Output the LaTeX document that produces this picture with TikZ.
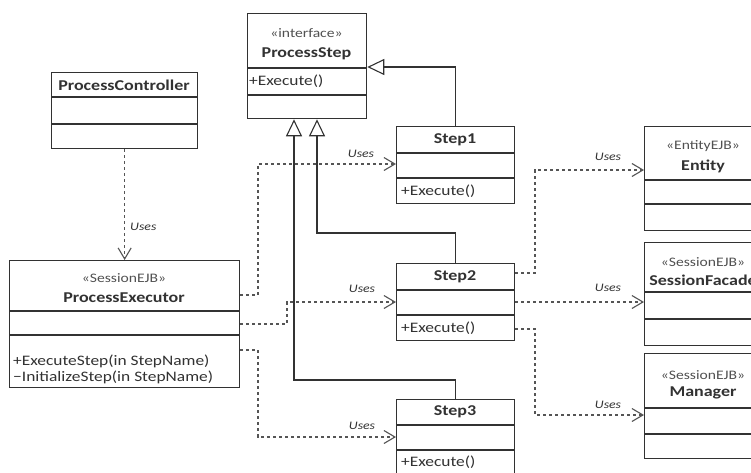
\documentclass[tikz,border=0pt]{standalone}
\usepackage{fontspec}
\setmainfont{Carlito}[FakeStretch=1.2]
\usetikzlibrary{arrows.meta,calc}

\definecolor{ink}{RGB}{50,50,50}
\definecolor{depink}{RGB}{85,85,85}

\tikzset{
  cls/.style={draw=ink, line width=1.3pt, fill=white, anchor=north west, inner sep=0pt},
  part/.style={draw=ink, line width=1.2pt},
  title/.style={font=\fontsize{15}{16}\selectfont\bfseries, text=ink, inner sep=0pt},
  stereo/.style={font=\fontsize{13}{14}\selectfont, text=ink!85, inner sep=0pt},
  meth/.style={font=\fontsize{14.5}{15}\selectfont, text=ink, inner sep=0pt, anchor=west},
  uses/.style={font=\fontsize{11.5}{12}\selectfont\itshape, text=ink, inner sep=0pt},
  dep/.style={draw=depink, line width=1.1pt, dash pattern=on 3pt off 3pt,
    -{Straight Barb[length=11pt,width=13pt,line width=1.1pt]}},
  gen/.style={draw=ink, line width=1.3pt,
    -{Triangle[open,length=17pt,width=16pt,fill=white,line width=1.1pt]}},
}

% draws the horizontal compartment separators of a class box
\newcommand{\compartments}[3]{%
  \draw[part] ($(#1.north west)+(0,#2)$) -- ($(#1.north east)+(0,#2)$);
  \draw[part] ($(#1.north west)+(0,#3)$) -- ($(#1.north east)+(0,#3)$);
}

\begin{document}
\begin{tikzpicture}[x=1pt,y=-1pt]
\useasboundingbox (0,0) rectangle (751,472);
\clip (0,0) rectangle (751,472);
\fill[white] (0,0) rectangle (751,472);

% ---- class boxes ----
\node[cls, minimum width=119pt, minimum height=105pt] (ps) at (247,13) {};
\compartments{ps}{55}{82}
\node[stereo] (ps-st) at (306.5,33) {«interface»};
\node[title] (ps-t) at (306.5,54) {ProcessStep};
\node[meth] (ps-m) at (249,81) {+Execute()};

\node[cls, minimum width=146pt, minimum height=76pt] (pc) at (51,72) {};
\compartments{pc}{25}{52}
\node[title] (pc-t) at (124,85) {ProcessController};

\node[cls, minimum width=230pt, minimum height=127pt] (pe) at (9,260) {};
\compartments{pe}{51}{75}
\node[stereo] (pe-st) at (124,278) {«SessionEJB»};
\node[title] (pe-t) at (124,298) {ProcessExecutor};
\node[meth] (pe-m1) at (13,361) {+ExecuteStep(in StepName)};
\node[meth] (pe-m2) at (13,377) {−InitializeStep(in StepName)};

\node[cls, minimum width=118pt, minimum height=77pt] (s1) at (396,126) {};
\compartments{s1}{27}{52}
\node[title] (s1-t) at (455,140) {Step1};
\node[meth] (s1-m) at (401,191) {+Execute()};

\node[cls, minimum width=118pt, minimum height=77pt] (s2) at (396,263) {};
\compartments{s2}{27}{52}
\node[title] (s2-t) at (455,277) {Step2};
\node[meth] (s2-m) at (401,328) {+Execute()};

\node[cls, minimum width=118pt, minimum height=80pt] (s3) at (396,399) {};
\compartments{s3}{26}{51}
\node[title] (s3-t) at (455,412) {Step3};
\node[meth] (s3-m) at (401,462) {+Execute()};

\node[cls, minimum width=118pt, minimum height=104pt] (en) at (644,126) {};
\compartments{en}{54}{78}
\node[stereo] (en-st) at (703,146) {«EntityEJB»};
\node[title] (en-t) at (703,166) {Entity};

\node[cls, minimum width=118pt, minimum height=103pt] (sf) at (644,242) {};
\compartments{sf}{50}{77}
\node[stereo] (sf-st) at (703,262) {«SessionEJB»};
\node[title] (sf-t) at (703,280) {SessionFacade};

\node[cls, minimum width=118pt, minimum height=105pt] (mg) at (644,353) {};
\compartments{mg}{55}{81}
\node[stereo] (mg-st) at (703,375) {«SessionEJB»};
\node[title] (mg-t) at (703,393) {Manager};

% ---- generalizations to ProcessStep ----
\coordinate (g1) at (455,67);
\coordinate (g2) at (317,233);
\coordinate (g3) at (294,380);
\draw[gen] (s1.north) -- (s1.north |- g1) -- (ps.east |- g1);
\draw[gen] (s2.north) -- (s2.north |- g2) -- (g2) -- (g2 |- ps.south);
\draw[gen] (s3.north) -- (s3.north |- g3) -- (g3) -- (g3 |- ps.south);

% ---- dependencies ----
\draw[dep] (pc.south) -- (pe.north);
\node[uses, anchor=west] (u0) at (130,227) {Uses};

\coordinate (d1a) at (258,295);
\coordinate (d1b) at (258,164);
\draw[dep] (pe.east |- d1a) -- (d1a) -- (d1b) -- (s1.west |- d1b);
\node[uses] (u1) at (361,154) {Uses};

\coordinate (d2a) at (287,324);
\coordinate (d2b) at (287,302);
\draw[dep] (pe.east |- d2a) -- (d2a) -- (d2b) -- (s2.west |- d2b);
\node[uses] (u2) at (362,289) {Uses};

\coordinate (d3a) at (258,350);
\coordinate (d3b) at (258,437);
\draw[dep] (pe.east |- d3a) -- (d3a) -- (d3b) -- (s3.west |- d3b);
\node[uses] (u3) at (362,426) {Uses};

\coordinate (d4a) at (535,273);
\coordinate (d4b) at (535,170);
\draw[dep] (s2.east |- d4a) -- (d4a) -- (d4b) -- (en.west |- d4b);
\node[uses] (u4) at (608,157) {Uses};

\coordinate (d5) at (514,302);
\draw[dep] (s2.east |- d5) -- (sf.west |- d5);
\node[uses] (u5) at (608,288) {Uses};

\coordinate (d6a) at (535,329);
\coordinate (d6b) at (535,415);
\draw[dep] (s2.east |- d6a) -- (d6a) -- (d6b) -- (mg.west |- d6b);
\node[uses] (u6) at (608,405) {Uses};
\end{tikzpicture}
\end{document}
